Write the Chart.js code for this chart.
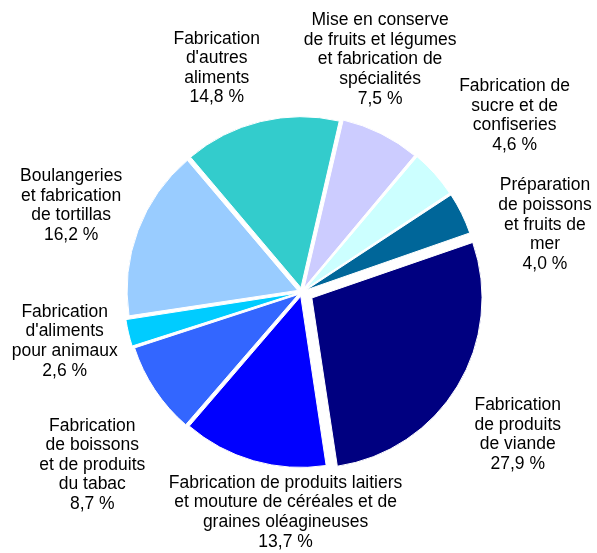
<!DOCTYPE html>
<html>
<head>
<meta charset="utf-8">
<script src="https://cdn.jsdelivr.net/npm/chart.js@4.4.1/dist/chart.umd.min.js"></script>
<style>
    html, body { margin: 0; padding: 0; background: #fff; }
    #pie { display: block; }
</style>
</head>
<body>
<canvas id="pie" width="597" height="553"></canvas>
<script>
// categories, clockwise from the top
var categories = [
    'Mise en conserve\nde fruits et légumes\net fabrication de\nspécialités',
    'Fabrication de\nsucre et de\nconfiseries',
    'Préparation\nde poissons\net fruits de\nmer',
    'Fabrication\nde produits\nde viande',
    'Fabrication de produits laitiers\net mouture de céréales et de\ngraines oléagineuses',
    'Fabrication\nde boissons\net de produits\ndu tabac',
    'Fabrication\nd\'aliments\npour animaux',
    'Boulangeries\net fabrication\nde tortillas',
    'Fabrication\nd\'autres\naliments'
];
var shares = [7.5, 4.6, 4.0, 27.9, 13.7, 8.7, 2.6, 16.2, 14.8];
var sliceColors = ['#CCCCFF', '#CCFFFF', '#006699', '#000080', '#0000FF', '#3366FF', '#00CCFF', '#99CCFF', '#33CCCC'];
// chart.js moves an arc by offset/4
var explode = [18, 18, 18, 46, 18, 18, 18, 18, 18];
// where each label block sits relative to the edge of its slice
var labelShift = [[0, -77], [82, -61], [86, 9], [66, 51], [32, 51], [-64, 75], [-67, 8], [-67, -26], [-44, -55]];

var LINE_H = 19.6;

const sliceLabels = {
    id: 'sliceLabels',
    afterDatasetsDraw(chart) {
        const ctx = chart.ctx;
        const meta = chart.getDatasetMeta(0);
        ctx.save();
        ctx.font = '17.5px "Liberation Sans", Arial, sans-serif';
        ctx.fillStyle = '#000';
        ctx.textAlign = 'center';
        ctx.textBaseline = 'alphabetic';
        meta.data.forEach(function (arc, i) {
            const p = arc.getProps(['x', 'y', 'startAngle', 'endAngle', 'outerRadius'], true);
            const mid = (p.startAngle + p.endAngle) / 2;
            const d = p.outerRadius + 5;
            const cx = p.x + Math.cos(mid) * d + labelShift[i][0];
            const cy = p.y + Math.sin(mid) * d + labelShift[i][1];
            const lines = categories[i].split('\n');
            lines.push(shares[i].toFixed(1).replace('.', ',') + ' %');
            const n = lines.length;
            for (var k = 0; k < n; k++) {
                ctx.fillText(lines[k], cx, cy + (k - (n - 1) / 2) * LINE_H + 6);
            }
        });
        ctx.restore();
    }
};

const ctx = document.getElementById('pie').getContext('2d');
const pie = new Chart(ctx, {
    type: 'pie',
    data: {
        labels: categories,
        datasets: [{
            data: shares,
            backgroundColor: sliceColors,
            borderColor: '#ffffff',
            borderWidth: 1,
            offset: explode,
            hoverOffset: 0
        }]
    },
    options: {
        responsive: false,
        animation: false,
        rotation: 13,
        radius: 170,
        layout: { padding: { left: 82, right: 75, top: 72, bottom: 41 } },
        plugins: {
            legend: { display: false },
            tooltip: { enabled: false }
        }
    },
    plugins: [sliceLabels]
});
</script>
</body>
</html>
